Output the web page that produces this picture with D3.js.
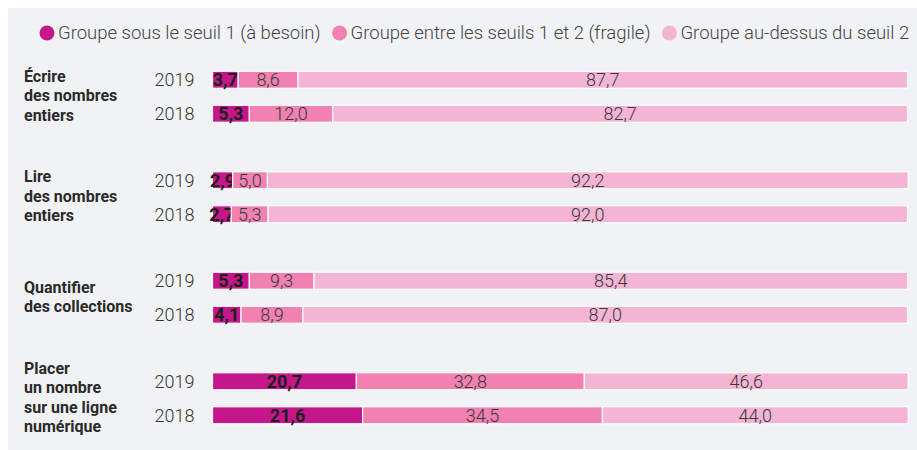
<!DOCTYPE html>
<html>
<head>
<meta charset="utf-8">
<script src="https://cdn.jsdelivr.net/npm/d3@7"></script>
<style>
  body { margin: 0; background: #fff; }
  svg { display: block; font-family: Roboto, "Noto Sans", sans-serif; }
</style>
</head>
<body>
<div id="chart"></div>
<script>
// data
var categories = [
    ["Écrire", "des nombres", "entiers"],
    ["Lire", "des nombres", "entiers"],
    ["Quantifier", "des collections"],
    ["Placer", "un nombre", "sur une ligne", "numérique"]
];
var years = ["2019", "2018"];
var seriesNames = [
    "Groupe sous le seuil 1 (à besoin)",
    "Groupe entre les seuils 1 et 2 (fragile)",
    "Groupe au-dessus du seuil 2"
];
var besoin   = [[3.7, 5.3], [2.9, 2.7], [5.3, 4.1], [20.7, 21.6]];
var fragile  = [[8.6, 12.0], [5.0, 5.3], [9.3, 8.9], [32.8, 34.5]];
var auDessus = [[87.7, 82.7], [92.2, 92.0], [85.4, 87.0], [46.6, 44.0]];

var colors = ["#c4178a", "#f081b1", "#f4b4d4"];

function draw() {
    var w = 917, h = 450;

    var svg = d3.select("#chart")
        .append("svg")
        .attr("width", w)
        .attr("height", h);

    svg.append("rect")
        .attr("x", 8).attr("y", 8)
        .attr("width", w - 8).attr("height", h - 8)
        .style("fill", "#f1f2f4");

    // rows table built from the arrays
    var rows = [];
    categories.forEach(function (c, i) {
        years.forEach(function (y, j) {
            rows.push({ cat: i, year: y, v: [besoin[i][j], fragile[i][j], auDessus[i][j]] });
        });
    });

    var xScale = d3.scaleLinear().domain([0, 100]).range([212.5, 907.5]);
    var groupScale = d3.scaleBand().domain(d3.range(categories.length)).range([46.5, 448.5]);
    var yearScale = d3.scaleBand().domain(years).range([-34, 34])
        .paddingInner(0.5).paddingOuter(0.25);

    function rowY(d) {
        return groupScale(d.cat) + groupScale.bandwidth() / 2 + yearScale(d.year);
    }

    // legend
    var legend = svg.append("g").attr("class", "legend");
    var lx = 39.5;
    seriesNames.forEach(function (name, i) {
        legend.append("circle")
            .attr("cx", lx + 7.5).attr("cy", 33).attr("r", 7.5)
            .style("fill", colors[i]);
        var t = legend.append("text")
            .attr("x", lx + 18.5).attr("y", 33)
            .attr("dy", "0.35em")
            .text(name)
            .style("font-size", "18.5px")
            .style("font-weight", 300)
            .style("fill", "#444");
        lx += 18.5 + t.node().getComputedTextLength() + 11.5;
    });

    // category labels
    categories.forEach(function (lines, i) {
        var cy = groupScale(i) + groupScale.bandwidth() / 2 - 1;
        var lh = 19.5;
        var t = svg.append("text")
            .attr("class", "cat")
            .style("font-size", "16px")
            .style("font-weight", 700)
            .style("fill", "#2a2a2a");
        lines.forEach(function (l, k) {
            t.append("tspan")
                .attr("x", 24)
                .attr("y", cy + (k - (lines.length - 1) / 2) * lh)
                .attr("dy", "0.35em")
                .text(l);
        });
    });

    // year labels
    svg.selectAll(".year")
        .data(rows)
        .enter().append("text")
        .attr("class", "year")
        .attr("x", 194.5)
        .attr("y", function (d) { return rowY(d) + yearScale.bandwidth() / 2; })
        .attr("dy", "0.35em")
        .attr("text-anchor", "end")
        .text(function (d) { return d.year; })
        .style("font-size", "18px")
        .style("font-weight", 300)
        .style("fill", "#333");

    // stacked segments
    var fmt = function (v) { return v.toFixed(1).replace(".", ","); };
    rows.forEach(function (d) {
        var y0 = rowY(d);
        var acc = 0;
        d.v.forEach(function (v, k) {
            var x0 = xScale(acc), x1 = xScale(acc + v);
            acc += v;
            svg.append("rect")
                .attr("x", x0).attr("y", y0)
                .attr("width", x1 - x0).attr("height", yearScale.bandwidth())
                .style("fill", colors[k])
                .style("stroke", "#fff")
                .style("stroke-width", 1.2);
            svg.append("text")
                .attr("x", (x0 + x1) / 2)
                .attr("y", y0 + yearScale.bandwidth() / 2)
                .attr("dy", "0.36em")
                .attr("text-anchor", "middle")
                .text(fmt(v))
                .style("font-size", "18px")
                .style("font-weight", k === 0 ? 700 : 300)
                .style("fill", k === 0 ? "#1e1e1e" : "#3a3a3a");
        });
    });
}

draw();
</script>
</body>
</html>
